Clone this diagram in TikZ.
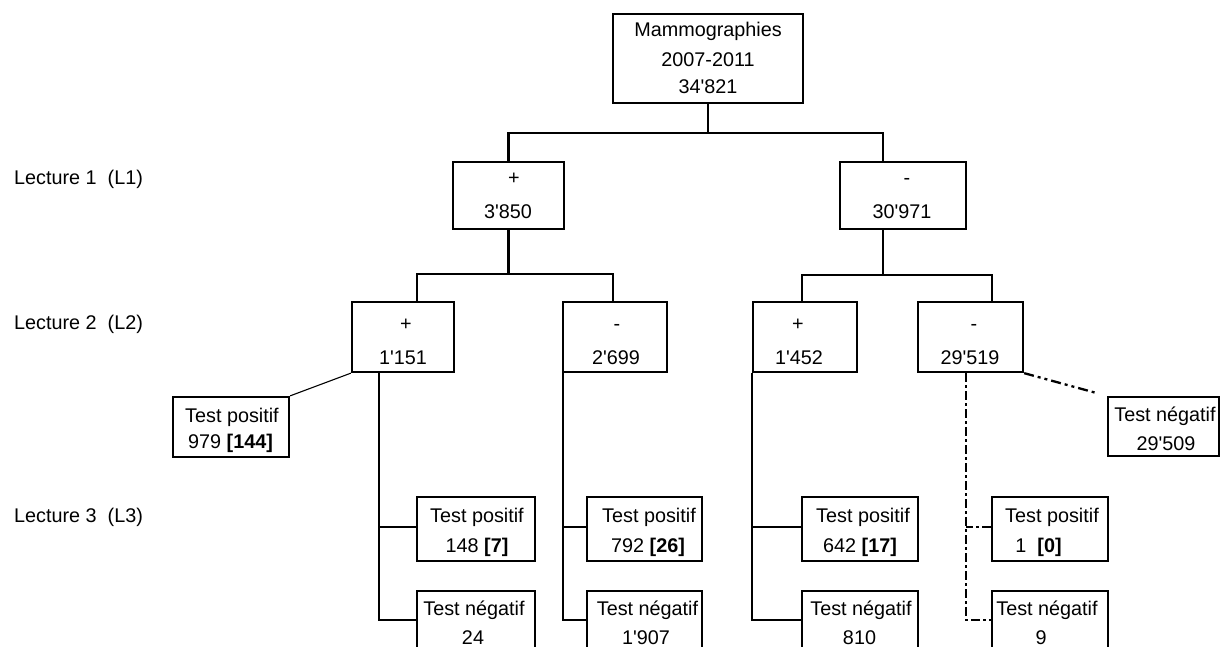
\documentclass[tikz,border=0pt]{standalone}
\usepackage{fontspec}
\setmainfont{Liberation Sans}
\newcommand{\apo}{\textquotesingle}
\begin{document}
\begin{tikzpicture}[x=1pt,y=-1pt,
  box/.style={draw, line width=2.3pt, inner sep=0pt, minimum width=116pt, minimum height=64pt},
  txt/.style={anchor=base, inner sep=0pt, font=\fontsize{19.8}{23}\selectfont},
  lbl/.style={anchor=base west, inner sep=0pt, font=\fontsize{19.8}{23}\selectfont},
  con/.style={line width=2.3pt},
  thin/.style={line width=1.1pt},
  dashdotline/.style={line width=2.3pt, dash pattern=on 9pt off 3pt on 3pt off 3pt},
  dashdotdotline/.style={line width=2.3pt, dash pattern=on 10pt off 4pt on 3pt off 4pt on 3pt off 4pt}
]
\useasboundingbox (0,0) rectangle (1222,647);
\clip (0,0) rectangle (1222,647);

% boxes
\node[box, minimum width=190pt, minimum height=89pt] (top) at (708,58.5) {};
\node[box, minimum width=111pt, minimum height=67pt] (l1p) at (508.5,195.5) {};
\node[box, minimum width=126pt, minimum height=67pt] (l1m) at (903,195.5) {};
\node[box, minimum width=102pt, minimum height=70pt] (l2a) at (403,337) {};
\node[box, minimum width=104pt, minimum height=70pt] (l2b) at (615,337) {};
\node[box, minimum width=104pt, minimum height=70pt] (l2c) at (805,337) {};
\node[box, minimum width=105pt, minimum height=70pt] (l2d) at (970.5,337) {};
\node[box, minimum width=116pt, minimum height=60pt] (tp0) at (231,427) {};
\node[box, minimum width=111pt, minimum height=59pt] (tn0) at (1163.5,426.5) {};
\node[box, minimum width=118pt] (p1) at (476,529) {};
\node[box, minimum width=118pt] (n1) at (476,623) {};
\node[box, minimum width=115pt] (p2) at (644.5,529) {};
\node[box, minimum width=115pt] (n2) at (644.5,623) {};
\node[box, minimum width=116pt] (p3) at (860,529) {};
\node[box, minimum width=116pt] (n3) at (860,623) {};
\node[box, minimum width=116pt] (p4) at (1050,529) {};
\node[box, minimum width=116pt] (n4) at (1050,623) {};

% texts
\node[txt] (ttop1) at (708,37) {Mammographies};
\node[txt] (ttop2) at (708,67) {2007-2011};
\node[txt] (ttop3) at (708,94) {34\apo821};
\node[txt] (tl1p1) at (514,184) {+};
\node[txt] (tl1p2) at (508,218) {3\apo850};
\node[txt] (tl1m1) at (907,184) {-};
\node[txt] (tl1m2) at (902,218) {30\apo971};
\node[txt] (tl2a1) at (406,330) {+};
\node[txt] (tl2a2) at (403,364) {1\apo151};
\node[txt] (tl2b1) at (617,330) {-};
\node[txt] (tl2b2) at (616,364) {2\apo699};
\node[txt] (tl2c1) at (798,330) {+};
\node[txt] (tl2c2) at (799,364) {1\apo452};
\node[txt] (tl2d1) at (974,330) {-};
\node[txt] (tl2d2) at (970,364) {29\apo519};
\node[txt] (ttp01) at (232,422) {Test positif};
\node[txt] (ttp02) at (230.5,448) {979 \textbf{[144]}};
\node[txt] (ttn01) at (1165,421) {Test négatif};
\node[txt] (ttn02) at (1166,450) {29\apo509};
\node[txt] (tp11) at (477,522) {Test positif};
\node[txt] (tp12) at (477,552) {148 \textbf{[7]}};
\node[txt] (tn11) at (474,615) {Test négatif};
\node[txt] (tn12) at (473,644) {24};
\node[txt] (tp21) at (649,522) {Test positif};
\node[txt] (tp22) at (648,552) {792 \textbf{[26]}};
\node[txt] (tn21) at (647.5,615) {Test négatif};
\node[txt] (tn22) at (646,644) {1\apo907};
\node[txt] (tp31) at (863,522) {Test positif};
\node[txt] (tp32) at (860,552) {642 \textbf{[17]}};
\node[txt] (tn31) at (861,615) {Test négatif};
\node[txt] (tn32) at (859.5,644) {810};
\node[txt] (tp41) at (1052,522) {Test positif};
\node[txt] (tp42) at (1038.5,552) {1\ \ \textbf{[0]}};
\node[txt] (tn41) at (1047,615) {Test négatif};
\node[txt] (tn42) at (1041,644) {9};

\node[lbl] (lec1) at (14,184) {Lecture 1\ \ (L1)};
\node[lbl] (lec2) at (14,329) {Lecture 2\ \ (L2)};
\node[lbl] (lec3) at (14,522) {Lecture 3\ \ (L3)};

% connectors
\draw[con] (top.south) -- ++(0,29) coordinate (b1);
\draw[con] (l1p.north) |- (b1) -| ([xshift=-20pt]l1m.north);
\draw[con] (l1p.south) -- ++(0,44) coordinate (b2);
\draw[con] ([xshift=14pt]l2a.north) |- (b2) -| ([xshift=-2pt]l2b.north);
\draw[con] ([xshift=-20pt]l1m.south) -- ++(0,45) coordinate (b3);
\draw[con] ([xshift=-3pt]l2c.north) |- (b3) -| ([xshift=21.5pt]l2d.north);

\draw[thin] (l2a.south west) -- (tp0.north east);
\coordinate (v1) at ([xshift=28pt]l2a.south west);
\draw[con] (v1) |- ([yshift=3pt]n1.west);
\draw[con] ([yshift=2pt]p1.west) -- ([yshift=2pt]p1.west -| v1);

\coordinate (v2) at ([xshift=1pt]l2b.south west);
\draw[con] (v2) |- ([yshift=3pt]n2.west);
\draw[con] ([yshift=2pt]p2.west) -- ([yshift=2pt]p2.west -| v2);

\coordinate (v3) at (l2c.south west);
\draw[con] (v3) |- ([yshift=3pt]n3.west);
\draw[con] ([yshift=2pt]p3.west) -- ([yshift=2pt]p3.west -| v3);

\coordinate (v4) at ([xshift=-4.5pt]l2d.south);
\draw[dashdotline] (v4) |- ([yshift=3pt]n4.west);
\draw[dashdotline] ([yshift=2pt]p4.west) -- ([yshift=2pt]p4.west -| v4);

\draw[dashdotdotline, shorten >=9pt] (l2d.south east) -- (tn0.north west);
\end{tikzpicture}
\end{document}
